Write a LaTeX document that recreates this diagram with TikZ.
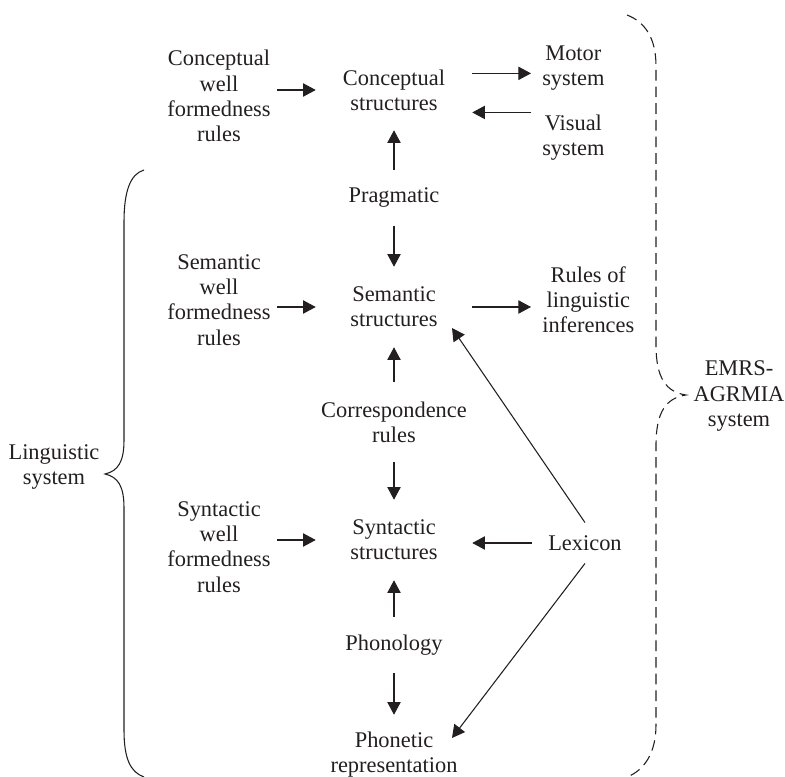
\documentclass[tikz,border=0pt]{standalone}
\usepackage{amsmath}
\usepackage{fontspec}
\setmainfont{Liberation Serif}
\usepackage{tikz}
\usetikzlibrary{arrows.meta}
\definecolor{ink}{RGB}{35,31,32}

\begin{document}
\begin{tikzpicture}[x=0.75pt,y=0.75pt,yscale=-1,xscale=1,
  every node/.style={font=\fontsize{16.8}{18.9}\selectfont,text=ink,align=center},
  arr/.style={draw=ink,line width=0.8pt,-{Triangle[length=9.5pt,width=10pt]}},
  midtwo/.style={inner sep=0pt,minimum width=117pt,minimum height=60pt},
  midone/.style={inner sep=0pt,minimum width=117pt,minimum height=42pt},
  leftbox/.style={inner sep=0pt,minimum width=87pt},
  rightbox/.style={anchor=west,inner xsep=8.25pt,inner ysep=0pt}]
\useasboundingbox (0,0) rectangle (785,777);
% centre column
\node [midtwo] (cs) at (394,90) {Conceptual\\structures};
\node [midone] (prag) at (394,198) {Pragmatic};
\node [midtwo] (sem) at (394,307) {Semantic\\structures};
\node [midtwo] (corr) at (394,422) {Correspondence\\rules};
\node [midtwo] (syn) at (394,540) {Syntactic\\structures};
\node [midone] (phon) at (394,645) {Phonology};
\node [midtwo] (phrep) at (394,755) {Phonetic\\representation};
% left column
\node [leftbox] (cwf) at (219,96) {Conceptual\\well\\formedness\\rules};
\node [leftbox] (swf) at (219,300) {Semantic\\well\\formedness\\rules};
\node [leftbox] (ywf) at (219,547) {Syntactic\\well\\formedness\\rules};
% right column
\node [rightbox] (mot) at (531,68) {Motor\\system};
\node [rightbox] (vis) at (531,138) {Visual\\system};
\node [rightbox] (rli) at (531,300) {Rules of\\linguistic\\inferences};
\node [anchor=west,inner xsep=12pt,inner ysep=9.5pt] (lex) at (532,543) {Lexicon};
\coordinate (semtip) at (452,328);
\coordinate (phontip) at (452,738);
% arrows
\draw [arr] (cs -| cwf.east) -- (cs);
\draw [arr] (sem -| swf.east) -- (sem);
\draw [arr] (syn -| ywf.east) -- (syn);
\draw [arr] (cs.12) -- (cs.12 -| mot.west);
\draw [arr] (cs.-16 -| vis.west) -- (cs.-16);
\draw [arr] (sem) -- (sem -| rli.west);
\draw [arr] (lex) -- (lex -| syn.east);
\draw [arr] (prag) -- (cs);
\draw [arr] (prag) -- (sem);
\draw [arr] (corr) -- (sem);
\draw [arr] (corr) -- (syn);
\draw [arr] (phon) -- (syn);
\draw [arr] (phon) -- (phrep);
\draw [arr] (lex.north) -- (semtip);
\draw [arr] (lex.south) -- (phontip);
% braces
\draw [ink,line width=0.8pt] (144,170) .. controls (130,174) and (124,192) .. (124,222) -- (124,440) .. controls (124,462) and (118,471) .. (105,474) .. controls (118,477) and (124,486) .. (124,508) -- (124,730) .. controls (124,758) and (130,772) .. (144,777);
\draw [ink,line width=0.8pt,dash pattern=on 8pt off 4.5pt] (627,15) .. controls (645,22) and (656,38) .. (656,66) -- (656,345) .. controls (656,378) and (666,392) .. (686,395) .. controls (666,398) and (656,412) .. (656,445) -- (656,725) .. controls (656,752) and (645,770) .. (627,777);
\node (ling) at (54,467) {Linguistic\\system};
\node (emrs) at (739,396) {EMRS-\\AGRMIA\\system};
\end{tikzpicture}
\end{document}
